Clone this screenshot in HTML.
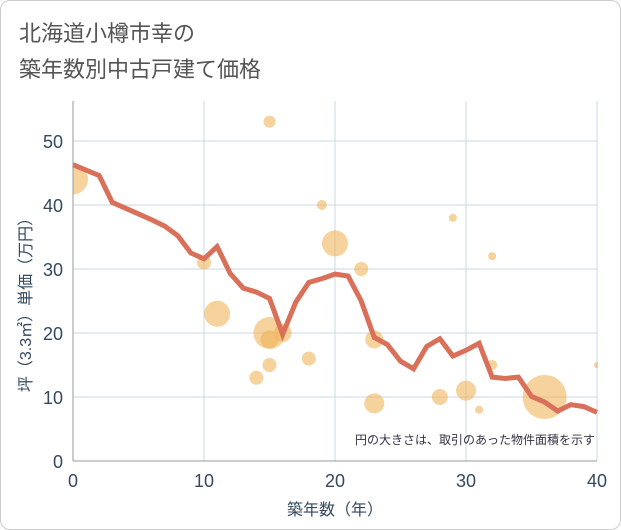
<!DOCTYPE html>
<html><head><meta charset="utf-8"><style>
body{margin:0;background:#fff;}
.wrap{position:relative;width:619px;height:528px;border:1px solid #ccc;border-radius:10px;overflow:hidden;font-family:"Liberation Sans","Noto Sans CJK JP",sans-serif;}
text{font-family:"Liberation Sans","Noto Sans CJK JP",sans-serif;}
</style></head><body>
<div class="wrap">
<svg id="c" width="621" height="530">
<defs><clipPath id="plotclip"><rect x="72" y="95" width="525" height="366"/></clipPath></defs>
<text x="18" y="40" font-size="22" fill="#555">北海道小樽市幸の</text>
<text x="18" y="76" font-size="22" fill="#555">築年数別中古戸建て価格</text>
<g id="grid"></g><g id="bubbles" clip-path="url(#plotclip)"></g><g id="line"></g><g id="axes"></g>
<text x="594" y="443" font-size="12" fill="#334" text-anchor="end">円の大きさは、取引のあった物件面積を示す</text>
<text x="334" y="514" font-size="16" fill="#34495e" text-anchor="middle">築年数（年）</text>
<text transform="translate(30,300) rotate(-90)" font-size="16" fill="#34495e" text-anchor="middle">坪（3.3㎡）単価（万円）</text>
</svg></div>
<script>
const xTicks=[0,10,20,30,40];
const yTicks=[0,10,20,30,40,50];
const lineYears=[0,2,3,4,5,6,7,8,9,10,11,12,13,14,15,16,17,18,19,20,21,22,23,24,25,26,27,28,29,30,31,32,33,34,35,36,37,38,39,40];
const lineValues=[46.3,44.6,40.4,39.5,38.6,37.7,36.7,35.2,32.5,31.6,33.5,29.3,27,26.4,25.4,19.8,24.8,27.9,28.5,29.2,28.9,25,19.3,18.2,15.6,14.4,17.9,19.1,16.4,17.3,18.4,13.1,12.9,13.1,10.1,9.2,7.8,8.8,8.5,7.6];
const bubbleYears=[0,10,11,15,14,15,15,15,16,18,19,20,22,23,23,28,29,30,31,32,32,36,40];
const bubbleValues=[44,31,23,53,13,15,20,19,20,16,40,34,30,19,9,10,38,11,8,32,15,10,15];
const bubbleSizes=[15,7,13,6,7,7,16,9,9,7,5,13,7,9,10,8,4,10,4,4,5,22,3];
const X=v=>72+v*(524/40), Y=v=>460-v*6.4;
const NS="http://www.w3.org/2000/svg";
function mk(t,a,p){const e=document.createElementNS(NS,t);for(const k in a)e.setAttribute(k,a[k]);p.appendChild(e);return e;}
const g=document.getElementById('grid'),ax=document.getElementById('axes');
xTicks.forEach(t=>{const l=mk('line',{x1:X(t),x2:X(t),y1:100,y2:460,stroke:'#c9d8e6','stroke-width':1},g);

const tx=mk('text',{x:X(t),y:486,'font-size':18,fill:'#34495e','text-anchor':'middle'},ax);tx.textContent=t;
});
yTicks.forEach(t=>{const l=mk('line',{x1:72,x2:596,y1:Y(t),y2:Y(t),stroke:'#c9d8e6','stroke-width':1},g);

const tx=mk('text',{x:62,y:Y(t)+7,'font-size':18,fill:'#34495e','text-anchor':'end'},ax);tx.textContent=t;
});
const a1=mk('line',{x1:72,x2:72,y1:100,y2:460,stroke:'#999'},ax);

const a2=mk('line',{x1:72,x2:596,y1:460,y2:460,stroke:'#999'},ax);

const b=document.getElementById('bubbles');
bubbleYears.forEach((yr,i)=>{const c=mk('circle',{cx:X(yr),cy:Y(bubbleValues[i]),r:bubbleSizes[i],fill:'#f0b45a','fill-opacity':0.6},b);
});
const pts=lineYears.map((yr,i)=>X(yr)+','+Y(lineValues[i])).join(' ');
const pl=mk('polyline',{points:pts,fill:'none',stroke:'#d9705a','stroke-width':5,'stroke-linejoin':'miter'},document.getElementById('line'));

</script></body></html>
